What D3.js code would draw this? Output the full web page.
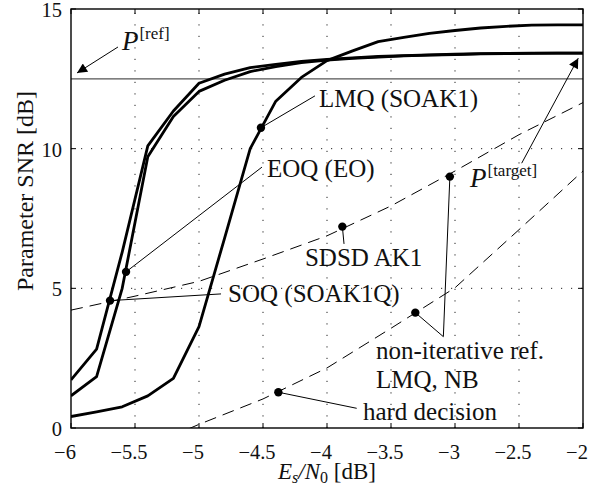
<!DOCTYPE html>
<html><head><meta charset="utf-8">
<script src="https://cdn.jsdelivr.net/npm/d3@7"></script>
<style>
body{margin:0;background:#fff;}
svg text{font-family:"Liberation Serif","Times New Roman",Times,"DejaVu Serif",serif;fill:#111;}
</style></head>
<body><svg id="c" width="589" height="492"></svg>
<script>
// ---- data ----
const esn0 = [-6,-5.8,-5.6,-5.4,-5.2,-5.0,-4.8,-4.6,-4.4,-4.2,-4.0,-3.8,-3.6,-3.4,-3.2,-3.0,-2.8,-2.6,-2.4,-2.2,-2.0];
const soq  = [1.72,2.82,6.3,10.1,11.35,12.34,12.67,12.9,13.02,13.12,13.2,13.25,13.3,13.33,13.36,13.38,13.4,13.41,13.42,13.42,13.42];
const eoq  = [1.15,1.84,5.0,9.71,11.15,12.05,12.45,12.76,12.94,13.08,13.17,13.23,13.28,13.32,13.35,13.37,13.39,13.4,13.41,13.42,13.42];
const lmq  = [0.41,0.58,0.76,1.15,1.78,3.63,6.8,10.0,11.7,12.55,13.15,13.5,13.83,13.98,14.13,14.23,14.32,14.38,14.42,14.43,14.43];
const refX = [-6,-5.5,-5,-4.5,-4,-3.5,-3,-2.5,-2];
const sdsd = [4.22,4.72,5.25,6.05,6.88,7.95,9.2,10.5,11.65];
const hardX = [-5.5,-5,-4.5,-4,-3.5,-3,-2.5,-2];
const hard  = [-0.85,0.13,1.04,2.15,3.57,5.02,7.1,9.2];
const refLevel = 12.5;
const xTicks = [-6,-5.5,-5,-4.5,-4,-3.5,-3,-2.5,-2];
const xTickLabels = ["\u22126","\u22125.5","\u22125","\u22124.5","\u22124","\u22123.5","\u22123","\u22122.5","\u22122"];
const yTicks = [0,5,10,15];
const yTickLabels = ["0","5","10","15"];
// marker dots [x, y]
const dots = [[-5.695,4.56],[-5.57,5.59],[-4.516,10.75],[-3.88,7.21],[-3.04,9.0],[-3.31,4.13],[-4.38,1.28]];
// annotations: text, x, y (left/baseline in data units)
const labels = [
  ["LMQ (SOAK1)",-4.0625,11.49],
  ["EOQ (EO)",-4.469,9.0],
  ["SOQ (SOAK1Q)",-4.773,4.52],
  ["SDSD AK1",-4.172,5.80],
  ["non-iterative ref.",-3.617,2.47],
  ["LMQ, NB",-3.617,1.43],
  ["hard decision",-3.719,0.29]
];
// leader lines [x1,y1,x2,y2]
const leaders = [
  [-4.516,10.75,-4.094,11.89],
  [-5.57,5.59,-4.508,9.34],
  [-5.695,4.56,-4.828,4.80],
  [-3.88,7.21,-3.867,6.59],
  [-3.31,4.13,-3.091,3.27],
  [-3.04,9.0,-3.091,3.27],
  [-4.38,1.28,-3.768,0.705]
];
// arrows [x1,y1,x2(head),y2(head)]
const arrows = [[-5.633,13.64,-5.953,12.71],[-2.479,9.48,-2.037,13.24]];
const pLabels = [["ref",-5.602,13.53],["target",-2.883,8.63]];

// ---- layout ----
const W=589,H=492,m={l:71,r:6,t:9,b:64};
const FONT='"Liberation Serif","Times New Roman",Times,"DejaVu Serif",serif';
const svg=d3.select("#c");
const x=d3.scaleLinear().domain([-6,-2]).range([m.l,W-m.r]);
const y=d3.scaleLinear().domain([0,15]).range([H-m.b,m.t]);
const defs=svg.append("defs");
defs.append("clipPath").attr("id","clip").append("rect")
  .attr("x",m.l).attr("y",m.t).attr("width",W-m.l-m.r).attr("height",H-m.t-m.b);
defs.append("marker").attr("id","ah").attr("viewBox","0 0 10 10").attr("refX",10).attr("refY",5)
  .attr("markerWidth",13).attr("markerHeight",10).attr("markerUnits","userSpaceOnUse").attr("orient","auto")
  .append("path").attr("d","M0,0 L10,5 L0,10 Z").attr("fill","#000");

// grid
const g=svg.append("g");
g.selectAll(".vg").data(xTicks.slice(1,-1)).join("line")
  .attr("x1",d=>x(d)).attr("x2",d=>x(d)).attr("y1",y(0)).attr("y2",y(15))
  .attr("stroke","#222").attr("stroke-width",1).attr("stroke-dasharray","1.2,10.3");
g.selectAll(".hg").data(yTicks.slice(1,-1)).join("line")
  .attr("y1",d=>y(d)).attr("y2",d=>y(d)).attr("x1",x(-6)).attr("x2",x(-2))
  .attr("stroke","#222").attr("stroke-width",1).attr("stroke-dasharray","1.2,8.8");

// reference level
svg.append("line").attr("x1",x(-6)).attr("x2",x(-2)).attr("y1",y(refLevel)).attr("y2",y(refLevel))
  .attr("stroke","#555").attr("stroke-width",1.2);

const cg=svg.append("g").attr("clip-path","url(#clip)");
const line=d3.line().x(d=>x(d[0])).y(d=>y(d[1]));
// dashed curves
[[refX,sdsd],[hardX,hard]].forEach(([xs,ys])=>{
  cg.append("path").attr("d",line(xs.map((v,i)=>[v,ys[i]])))
   .attr("fill","none").attr("stroke","#000").attr("stroke-width",1).attr("stroke-dasharray","12,7");
});
// thick curves
[soq,eoq,lmq].forEach(ys=>{
  cg.append("path").attr("d",line(esn0.map((v,i)=>[v,ys[i]])))
   .attr("fill","none").attr("stroke","#000").attr("stroke-width",2.8).attr("stroke-linejoin","round");
});

// leaders
svg.selectAll(".ld").data(leaders).join("line")
  .attr("x1",d=>x(d[0])).attr("y1",d=>y(d[1])).attr("x2",d=>x(d[2])).attr("y2",d=>y(d[3]))
  .attr("stroke","#000").attr("stroke-width",1);
// dots
svg.selectAll(".dt").data(dots).join("circle")
  .attr("cx",d=>x(d[0])).attr("cy",d=>y(d[1])).attr("r",4.2).attr("fill","#000");
// arrows
svg.selectAll(".ar").data(arrows).join("line")
  .attr("x1",d=>x(d[0])).attr("y1",d=>y(d[1])).attr("x2",d=>x(d[2])).attr("y2",d=>y(d[3]))
  .attr("stroke","#000").attr("stroke-width",1).attr("marker-end","url(#ah)");

// labels
svg.selectAll(".lb").data(labels).join("text").attr("font-family",FONT)
  .attr("x",d=>x(d[1])).attr("y",d=>y(d[2])).attr("font-size",25).text(d=>d[0]);
pLabels.forEach(([sup,xx,yy])=>{
  const t=svg.append("text").attr("font-family",FONT).attr("x",x(xx)).attr("y",y(yy)).attr("font-size",27);
  t.append("tspan").attr("font-style","italic").text("P");
  t.append("tspan").attr("font-size",17).attr("dy",-11).attr("dx",1).text("["+sup+"]");
});

// frame
svg.append("rect").attr("x",m.l).attr("y",m.t).attr("width",W-m.l-m.r).attr("height",H-m.t-m.b)
  .attr("fill","none").attr("stroke","#000").attr("stroke-width",1.4);
// inward ticks
const tk=svg.append("g").attr("stroke","#000").attr("stroke-width",1);
xTicks.forEach(v=>{
  tk.append("line").attr("x1",x(v)).attr("x2",x(v)).attr("y1",y(0)).attr("y2",y(0)-5);
  tk.append("line").attr("x1",x(v)).attr("x2",x(v)).attr("y1",y(15)).attr("y2",y(15)+5);
});
yTicks.forEach(v=>{
  tk.append("line").attr("y1",y(v)).attr("y2",y(v)).attr("x1",x(-6)).attr("x2",x(-6)+5);
  tk.append("line").attr("y1",y(v)).attr("y2",y(v)).attr("x1",x(-2)).attr("x2",x(-2)-5);
});
// tick labels
svg.selectAll(".xt").data(xTicks).join("text").attr("font-family",FONT)
  .attr("x",d=>x(d)-6).attr("y",y(0)+30.5).attr("text-anchor","middle").attr("font-size",20.5)
  .text((d,i)=>xTickLabels[i]);
svg.selectAll(".yt").data(yTicks).join("text").attr("font-family",FONT)
  .attr("x",x(-6)-9).attr("y",d=>y(d)+8).attr("text-anchor","end").attr("font-size",20.5)
  .text((d,i)=>yTickLabels[i]);

// axis titles
const xl=svg.append("text").attr("font-family",FONT).attr("x",(m.l+W-m.r)/2).attr("y",479).attr("text-anchor","middle").attr("font-size",23);
xl.append("tspan").attr("font-style","italic").text("E");
xl.append("tspan").attr("font-style","italic").attr("font-size",16).attr("dy",4).text("s");
xl.append("tspan").attr("font-style","italic").attr("dy",-4).text("/N");
xl.append("tspan").attr("font-size",16).attr("dy",4).text("0");
xl.append("tspan").attr("dy",-4).text(" [dB]");
svg.append("text").attr("font-family",FONT).attr("transform","translate(33,191) rotate(-90)").attr("text-anchor","middle")
  .attr("font-size",24).text("Parameter SNR [dB]");
</script></body></html>
